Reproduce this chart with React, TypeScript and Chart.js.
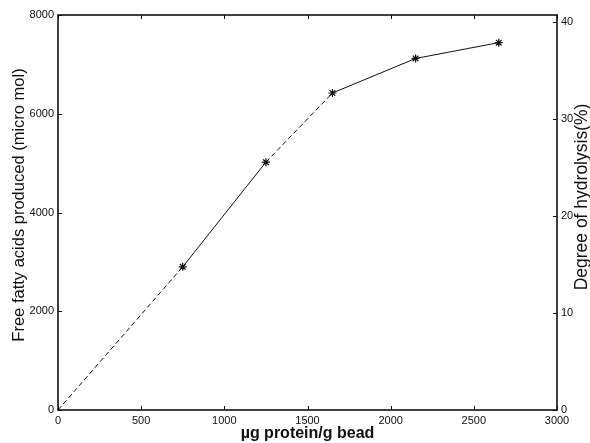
import React, { useEffect, useRef } from "react";
import { Chart, registerables } from "chart.js";

Chart.register(...registerables);

const proteinLoading = [0, 750, 1250, 1650, 2150, 2650];
const fattyAcids = [0, 2900, 5020, 6420, 7120, 7440];
const pointRadii = [0, 4, 4, 4, 4, 4];
const xTickValues = [0, 500, 1000, 1500, 2000, 2500, 3000];
const yTickValues = [0, 2000, 4000, 6000, 8000];
const y2TickValues = [0, 10, 20, 30, 40];
const xTitle = "\u00b5g protein/g bead";
const yTitle = "Free fatty acids produced (micro mol)";
const y2Title = "Degree of hydrolysis(%)";

const FONT = "'Liberation Sans', Arial, Helvetica, sans-serif";

const framePlugin = {
  id: "frameAndTitles",
  afterDraw(chart: any) {
    const { ctx, chartArea } = chart;
    const { left, right, top, bottom } = chartArea;
    const xs = chart.scales.x;
    const ys = chart.scales.y;
    const y2s = chart.scales.y2;
    ctx.save();
    ctx.strokeStyle = "#111";
    ctx.lineWidth = 1.6;
    ctx.strokeRect(left, top, right - left, bottom - top);
    ctx.lineWidth = 1;
    const tl = 4;
    ctx.beginPath();
    xs.ticks.forEach((t: any) => {
      const px = Math.round(xs.getPixelForValue(t.value)) + 0.5;
      ctx.moveTo(px, bottom);
      ctx.lineTo(px, bottom - tl);
      ctx.moveTo(px, top);
      ctx.lineTo(px, top + tl);
    });
    ys.ticks.forEach((t: any) => {
      const py = Math.round(ys.getPixelForValue(t.value)) + 0.5;
      ctx.moveTo(left, py);
      ctx.lineTo(left + tl, py);
    });
    y2s.ticks.forEach((t: any) => {
      const py = Math.round(y2s.getPixelForValue(t.value)) + 0.5;
      ctx.moveTo(right, py);
      ctx.lineTo(right - tl, py);
    });
    ctx.stroke();

    ctx.fillStyle = "#111";
    ctx.textAlign = "center";
    ctx.textBaseline = "middle";
    ctx.font = `bold 16px ${FONT}`;
    ctx.fillText(xTitle, (left + right) / 2, 434);
    ctx.save();
    ctx.translate(19, 205);
    ctx.rotate(-Math.PI / 2);
    ctx.font = `16.5px ${FONT}`;
    ctx.fillText(yTitle, 0, 0);
    ctx.restore();
    ctx.save();
    ctx.translate(582, 197);
    ctx.rotate(-Math.PI / 2);
    ctx.font = `17.5px ${FONT}`;
    ctx.fillText(y2Title, 0, 0);
    ctx.restore();
    ctx.restore();
  },
};

const fixedTicks = (values: number[]) => (s: any) => {
  s.ticks = values.map((v) => ({ value: v }));
};
const plainLabel = (v: any) => String(v);

export default function App() {
  const ref = useRef<HTMLCanvasElement | null>(null);
  useEffect(() => {
    if (!ref.current) return;
    const tickFont = { family: FONT, size: 11 };
    const chart = new Chart(ref.current, {
      type: "scatter",
      data: {
        datasets: [
          {
            data: proteinLoading.map((x, i) => ({ x, y: fattyAcids[i] })),
            showLine: true,
            borderColor: "#111",
            borderWidth: 1,
            pointStyle: "star",
            pointRadius: pointRadii,
            pointBorderColor: "#111",
            pointBorderWidth: 1.2,
            segment: {
              borderDash: (c: any) =>
                c.p0DataIndex === 0 || c.p0DataIndex === 2 ? [5, 3] : undefined,
            },
          },
        ],
      },
      options: {
        responsive: false,
        animation: false,
        devicePixelRatio: 1,
        layout: { padding: { top: 15, left: 0, right: 0, bottom: 0 } },
        plugins: { legend: { display: false }, tooltip: { enabled: false } },
        scales: {
          x: {
            type: "linear",
            min: 0,
            max: 3000,
            grid: { display: false, drawTicks: false },
            border: { display: false },
            afterBuildTicks: fixedTicks(xTickValues),
            ticks: { padding: 4, color: "#111", font: tickFont, callback: plainLabel, maxRotation: 0 },
            afterFit: (s: any) => {
              s.height = 33;
            },
          },
          y: {
            type: "linear",
            min: 0,
            max: 8000,
            grid: { display: false, drawTicks: false },
            border: { display: false },
            afterBuildTicks: fixedTicks(yTickValues),
            ticks: { padding: 4, color: "#111", font: tickFont, callback: plainLabel },
            afterFit: (s: any) => {
              s.width = 58;
            },
          },
          y2: {
            type: "linear",
            position: "right",
            min: 0,
            max: 40.7,
            grid: { display: false, drawTicks: false },
            border: { display: false },
            afterBuildTicks: fixedTicks(y2TickValues),
            ticks: { padding: 4, color: "#111", font: tickFont, callback: plainLabel },
            afterFit: (s: any) => {
              s.width = 33;
            },
          },
        },
      } as any,
      plugins: [framePlugin],
    });
    return () => chart.destroy();
  }, []);
  return (
    <div style={{ position: "absolute", left: 0, top: 0, width: 590, height: 443, background: "#fff" }}>
      <canvas ref={ref} width={590} height={443} style={{ display: "block" }} />
    </div>
  );
}
